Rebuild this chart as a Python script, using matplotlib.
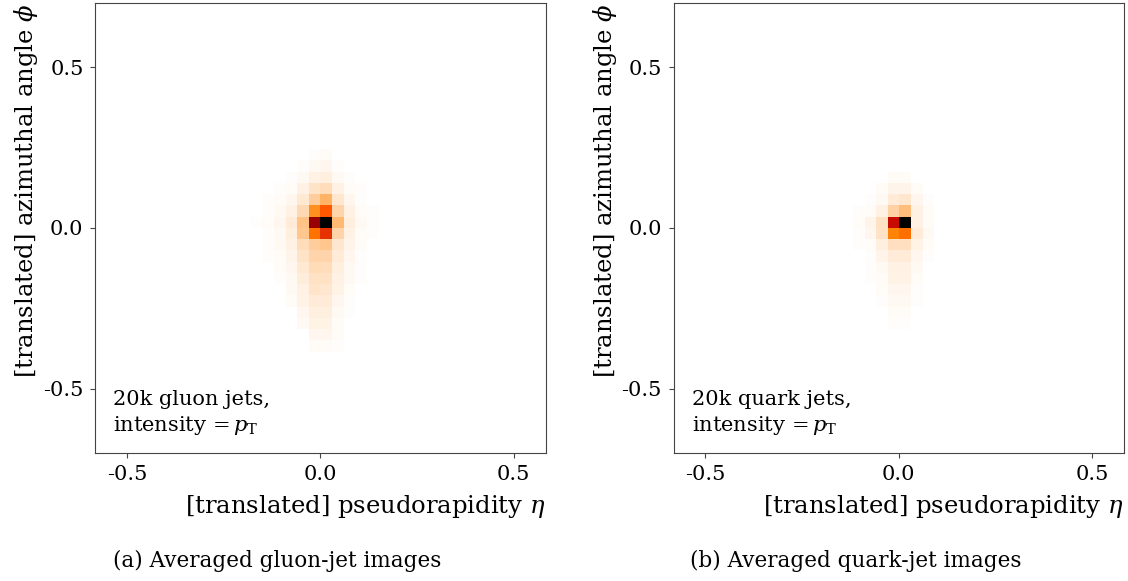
import numpy as np
import matplotlib
matplotlib.use("Agg")
import matplotlib.pyplot as plt

plt.rcParams['font.family'] = ['DejaVu Serif']
plt.rcParams['mathtext.fontset'] = 'dejavuserif'
plt.rcParams['axes.unicode_minus'] = False

# averaged jet images, 40x40 pixels over eta in [-0.6, 0.6], phi in [-0.7, 0.7]
# only the non-empty block is listed; rows go from top (phi high) to bottom
n_pix = 40
extent = [-0.6, 0.6, -0.7, 0.7]

# gluon block: rows phi-bins 6 .. -11, columns eta-bins -6 .. 4
gluon_rows = list(range(6, -12, -1))
gluon_cols = list(range(-6, 5))
gluon_block = [
    [0, 0, 0, 0, 0, .006, .008, 0, 0, 0, 0],
    [0, 0, 0, 0, .006, .014, .016, .006, 0, 0, 0],
    [0, 0, 0, .005, .014, .030, .035, .015, .005, 0, 0],
    [0, 0, .005, .010, .030, .055, .070, .030, .010, .004, 0],
    [0, .004, .008, .018, .045, .100, .150, .050, .018, .006, 0],
    [.003, .006, .012, .030, .075, .220, .330, .085, .030, .010, .004],
    [.004, .008, .016, .040, .120, .600, 1.00, .140, .035, .012, .005],
    [.003, .006, .014, .035, .110, .280, .400, .085, .030, .010, .004],
    [0, .005, .012, .028, .070, .100, .110, .050, .022, .008, .003],
    [0, .004, .010, .022, .055, .085, .085, .040, .018, .006, 0],
    [0, 0, .008, .018, .045, .072, .070, .034, .014, .005, 0],
    [0, 0, .006, .015, .038, .062, .060, .028, .012, .004, 0],
    [0, 0, 0, .012, .030, .052, .050, .024, .009, 0, 0],
    [0, 0, 0, .009, .024, .042, .040, .019, .007, 0, 0],
    [0, 0, 0, 0, .018, .034, .032, .015, .005, 0, 0],
    [0, 0, 0, 0, .012, .026, .025, .011, 0, 0, 0],
    [0, 0, 0, 0, 0, .018, .018, .008, 0, 0, 0],
    [0, 0, 0, 0, 0, .010, .011, .006, 0, 0, 0],
]

# quark block: rows phi-bins 4 .. -9, columns eta-bins -4 .. 2
quark_rows = list(range(4, -10, -1))
quark_cols = list(range(-4, 3))
quark_block = [
    [0, 0, 0, .008, .008, 0, 0],
    [0, 0, .008, .020, .020, .008, 0],
    [0, .004, .015, .042, .050, .018, .004],
    [.004, .010, .028, .090, .130, .030, .008],
    [.008, .022, .060, .480, 1.00, .028, .010],
    [.005, .018, .055, .245, .285, .040, .012],
    [.004, .010, .035, .065, .065, .025, .008],
    [.003, .007, .020, .040, .040, .016, .005],
    [0, .005, .014, .030, .030, .012, 0],
    [0, .004, .011, .024, .024, .010, 0],
    [0, .003, .008, .019, .019, .007, 0],
    [0, 0, .005, .014, .014, .005, 0],
    [0, 0, 0, .010, .010, 0, 0],
    [0, 0, 0, .007, .007, 0, 0],
]

ticks = [-0.5, 0.0, 0.5]
tick_labels = ["-0.5", "0.0", "0.5"]
labels = ["20k gluon jets,\nintensity$\\,=p_{\\mathrm{T}}$",
          "20k quark jets,\nintensity$\\,=p_{\\mathrm{T}}$"]
captions = ["(a) Averaged gluon-jet images", "(b) Averaged quark-jet images"]


def make_image(rows, cols, block):
    img = np.zeros((n_pix, n_pix))
    for r, j in enumerate(rows):
        for c, i in enumerate(cols):
            img[n_pix // 2 - 1 - j, n_pix // 2 + i] = block[r][c]
    return img


images = [make_image(gluon_rows, gluon_cols, gluon_block),
          make_image(quark_rows, quark_cols, quark_block)]

fig = plt.figure(figsize=(11.28, 5.81), dpi=100)
lefts = [0.0846, 0.5973]

for k in range(2):
    ax = fig.add_axes([lefts[k], 0.2207, 0.399, 0.774])
    ax.imshow(images[k], cmap='gist_heat_r', extent=extent, origin='upper',
              interpolation='nearest', aspect='auto', vmin=0, vmax=images[k].max())
    ax.set_xlim(-0.582, 0.582)
    ax.set_ylim(-0.70, 0.70)
    ax.set_xticks(ticks)
    ax.set_xticklabels(tick_labels)
    ax.set_yticks(ticks)
    ax.set_yticklabels(tick_labels)
    ax.tick_params(labelsize=15, color='#444444', pad=5)
    for sp in ax.spines.values():
        sp.set_color('#444444')
    ax.set_xlabel(r"[translated] pseudorapidity $\eta$", fontsize=17.5,
                  loc='right', labelpad=7)
    ax.set_ylabel(r"[translated] azimuthal angle $\phi$", fontsize=17.5,
                  loc='top', labelpad=2)
    ax.text(0.04, 0.035, labels[k], transform=ax.transAxes, fontsize=15,
            ha='left', va='bottom', linespacing=1.3)
    fig.text(lefts[k] + 0.1615, 1 - 561 / 581, captions[k], fontsize=15.5,
             ha='center', va='center')

fig.savefig("out.png", dpi=100)
